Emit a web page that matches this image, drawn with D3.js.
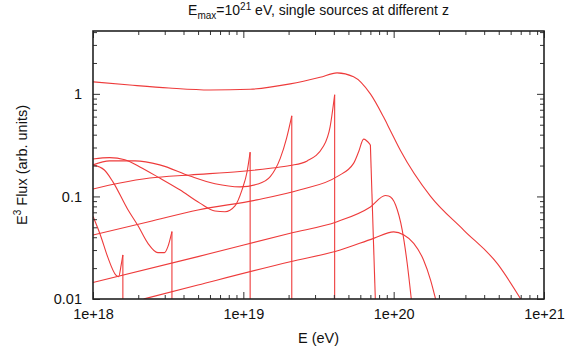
<!DOCTYPE html>
<html>
<head>
<meta charset="utf-8">
<script src="https://cdn.jsdelivr.net/npm/d3@7"></script>
<style>
  body { margin: 0; background: #fff; }
  svg { font-family: "Liberation Sans", Arial, Helvetica, sans-serif; }
</style>
</head>
<body>
<div id="chart"></div>
<script>
// Data: [E (eV), E^3 flux (arb. units)]
const curveTop = [[1e18,1.31],[1.76e18,1.22],[3.2e18,1.14],[6.0e18,1.09],[1.11e19,1.11],[2.05e19,1.25],[3.24e19,1.45],[4.2e19,1.6],[5.41e19,1.47],[7.0e19,1.0],[8.54e19,0.6],[9.5e19,0.44],[1.11e20,0.28],[1.76e20,0.1],[2.92e20,0.047],[4.91e20,0.022],[7.0e20,0.01]];
const curveA = [[1e18,0.064],[1.13e18,0.0405],[1.25e18,0.0259],[1.42e18,0.0171],[1.48e18,0.0165],[1.54e18,0.0215],[1.58e18,0.0269]];
const curveB = [[1e18,0.203],[1.19e18,0.181],[1.36e18,0.138],[1.70e18,0.075],[1.99e18,0.052],[2.32e18,0.0349],[2.70e18,0.0283],[2.99e18,0.0283],[3.15e18,0.0324],[3.35e18,0.0454]];
const curveC = [[1e18,0.232],[1.29e18,0.239],[1.63e18,0.228],[2.05e18,0.194],[2.78e18,0.151],[3.78e18,0.116],[5.14e18,0.086],[6.48e18,0.072],[7.55e18,0.071],[8.8e18,0.081],[9.8e18,0.116],[1.06e19,0.175],[1.11e19,0.27]];
const curveD = [[1e18,0.203],[1.29e18,0.222],[1.9e18,0.222],[2.78e18,0.203],[4.41e18,0.158],[6.48e18,0.133],[9.5e18,0.124],[1.25e19,0.132],[1.51e19,0.156],[1.76e19,0.235],[1.94e19,0.37],[2.10e19,0.61]];
const curveE = [[1e18,0.118],[1.51e18,0.135],[2.39e18,0.151],[4.41e18,0.162],[9.5e18,0.175],[1.51e19,0.188],[2.05e19,0.2],[2.66e19,0.222],[3.4e19,0.306],[3.78e19,0.48],[4.05e19,0.98]];
const curveF = [[1e18,0.042],[2.39e18,0.057],[4.99e18,0.0738],[1.23e19,0.0925],[2.39e19,0.116],[4.2e19,0.156],[5.41e19,0.21],[5.85e19,0.273],[6.31e19,0.362],[7.0e19,0.318]];
const curveG = [[1e18,0.0145],[4.99e18,0.0259],[2.05e19,0.0438],[4.2e19,0.0567],[7.0e19,0.079],[8.8e19,0.102],[9.26e19,0.101],[1.03e20,0.0826],[1.14e20,0.047],[1.23e20,0.0223],[1.31e20,0.01]];
const curveH = [[2.17e18,0.01],[4.99e18,0.0137],[2.05e19,0.0231],[4.41e19,0.030],[7.36e19,0.039],[1.0e20,0.0451],[1.17e20,0.042],[1.36e20,0.0349],[1.58e20,0.024],[1.76e20,0.0153],[1.90e20,0.01]];

// energy where each spiky curve falls straight down (null = smooth end)
const dropEnergies = [null, 1.58e18, 3.35e18, 1.11e19, 2.10e19, 4.05e19, 7.55e19, null, null];
const allCurves = [curveTop, curveA, curveB, curveC, curveD, curveE, curveF, curveG, curveH];

const xDomain = [1e18, 1e21];
const yDomain = [0.01, 4.1];

const titleParts = { main: "E", sub: "max", mid: "=10", sup: "21", rest: " eV, single sources at different z" };
const xTitle = "E (eV)";

// Dimensions
const dimensions = { width: 567, height: 358, top: 31, right: 23, bottom: 59, left: 93 };
const x0 = dimensions.left, x1 = dimensions.width - dimensions.right;
const y0 = dimensions.height - dimensions.bottom, y1 = dimensions.top;

const svg = d3.select("#chart").append("svg")
  .attr("width", dimensions.width)
  .attr("height", dimensions.height);

// Scales
const xScale = d3.scaleLog().domain(xDomain).range([x0, x1]);
const yScale = d3.scaleLog().domain(yDomain).range([y0, y1]);

const isDecade = (d) => Math.abs(Math.log10(d) - Math.round(Math.log10(d))) < 1e-9;
const xMajor = xScale.ticks().filter(isDecade);
const xMinor = xScale.ticks().filter((d) => !isDecade(d));
const yMajor = yScale.ticks().filter(isDecade);
const yMinor = yScale.ticks().filter((d) => !isDecade(d));

const tickColor = "#333";
const styleAxis = (g) => {
  g.select(".domain").remove();
  g.selectAll(".tick line").attr("stroke", tickColor).attr("stroke-width", 1);
  g.selectAll("text").attr("fill", "#111").style("font-size", "14.5px");
};

// Curves
svg.append("clipPath").attr("id", "plotClip")
  .append("rect").attr("x", x0).attr("y", y1).attr("width", x1 - x0).attr("height", y0 - y1);

const smoothLine = d3.line().x((d) => xScale(d[0])).y((d) => yScale(d[1])).curve(d3.curveMonotoneX);
const straightLine = d3.line().x((d) => xScale(d[0])).y((d) => yScale(d[1]));

const lines = svg.append("g").attr("clip-path", "url(#plotClip)")
  .attr("fill", "none").attr("stroke", "#ee3b3b").attr("stroke-width", 1.1);

allCurves.forEach((pts, i) => {
  lines.append("path").attr("d", smoothLine(pts));
  if (dropEnergies[i] !== null) {
    const last = pts[pts.length - 1];
    lines.append("path").attr("d", straightLine([last, [dropEnergies[i], yDomain[0]]]));
  }
});

// Axes
const major = 7, minor = 4;
svg.append("g").attr("transform", `translate(0,${y0})`)
  .call(d3.axisBottom(xScale).tickValues(xMajor).tickSize(-major).tickPadding(10).tickFormat((d) => d.toExponential(0)))
  .call(styleAxis);
svg.append("g").attr("transform", `translate(0,${y0})`)
  .call(d3.axisBottom(xScale).tickValues(xMinor).tickSize(-minor).tickFormat(""))
  .call(styleAxis);
svg.append("g").attr("transform", `translate(0,${y1})`)
  .call(d3.axisTop(xScale).tickValues(xMajor).tickSize(-major).tickFormat(""))
  .call(styleAxis);
svg.append("g").attr("transform", `translate(0,${y1})`)
  .call(d3.axisTop(xScale).tickValues(xMinor).tickSize(-minor).tickFormat(""))
  .call(styleAxis);
svg.append("g").attr("transform", `translate(${x0},0)`)
  .call(d3.axisLeft(yScale).tickValues(yMajor).tickSize(-major).tickPadding(11).tickFormat((d) => String(d)))
  .call(styleAxis);
svg.append("g").attr("transform", `translate(${x0},0)`)
  .call(d3.axisLeft(yScale).tickValues(yMinor).tickSize(-minor).tickFormat(""))
  .call(styleAxis);
svg.append("g").attr("transform", `translate(${x1},0)`)
  .call(d3.axisRight(yScale).tickValues(yMajor).tickSize(-major).tickFormat(""))
  .call(styleAxis);
svg.append("g").attr("transform", `translate(${x1},0)`)
  .call(d3.axisRight(yScale).tickValues(yMinor).tickSize(-minor).tickFormat(""))
  .call(styleAxis);

// Frame
svg.append("rect")
  .attr("x", x0).attr("y", y1).attr("width", x1 - x0).attr("height", y0 - y1)
  .attr("fill", "none").attr("stroke", "#222").attr("stroke-width", 1.6);

// Title
const title = svg.append("text")
  .attr("x", (x0 + x1) / 2).attr("y", 15)
  .attr("text-anchor", "middle").style("font-size", "14px").attr("fill", "#111");
title.append("tspan").text(titleParts.main);
title.append("tspan").attr("dy", 4).style("font-size", "10px").text(titleParts.sub);
title.append("tspan").attr("dy", -4).text(titleParts.mid);
title.append("tspan").attr("dy", -5).style("font-size", "10px").text(titleParts.sup);
title.append("tspan").attr("dy", 5).text(titleParts.rest);

// Axis titles
svg.append("text")
  .attr("x", (x0 + x1) / 2).attr("y", 343)
  .attr("text-anchor", "middle").style("font-size", "14.5px").attr("fill", "#111")
  .text(xTitle);

const yTitle = svg.append("text")
  .attr("transform", `translate(27,${(y0 + y1) / 2}) rotate(-90)`)
  .attr("text-anchor", "middle").style("font-size", "14.5px").attr("fill", "#111");
yTitle.append("tspan").text("E");
yTitle.append("tspan").attr("dy", -6).style("font-size", "10px").text("3");
yTitle.append("tspan").attr("dy", 6).text(" Flux (arb. units)");
</script>
</body>
</html>
